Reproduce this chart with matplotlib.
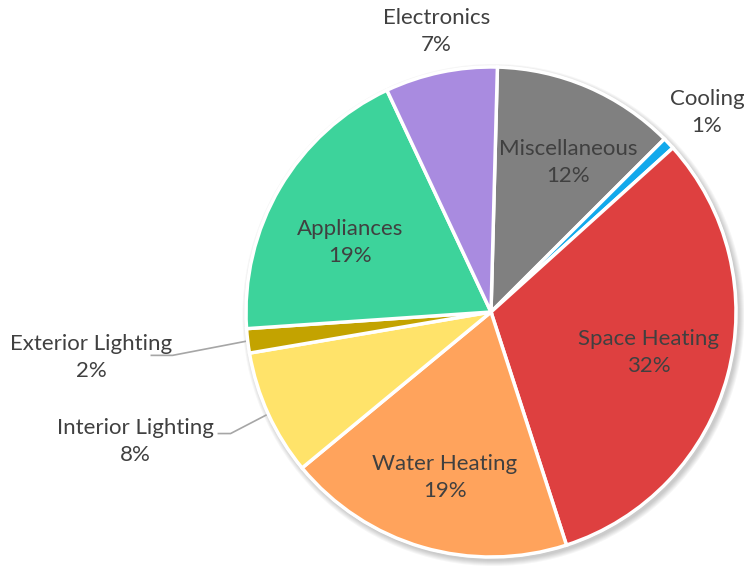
import numpy as np
import matplotlib
matplotlib.use("Agg")
import matplotlib.pyplot as plt
from matplotlib.patches import Circle

# Household energy use by end use (share of total, %)
categories = ["Miscellaneous", "Cooling", "Space Heating", "Water Heating",
              "Interior Lighting", "Exterior Lighting", "Appliances", "Electronics"]
shares = [12.1, 0.8, 31.7, 19.0, 8.3, 1.6, 19.1, 7.4]
colors = ["#808080", "#12A9EC", "#DE4040", "#FFA35C",
          "#FFE36A", "#C3A300", "#3DD39B", "#A98BE0"]

plt.rcParams["font.family"] = ["Lato", "DejaVu Sans"]
TEXT = "#404040"

W, H, DPI = 744, 569, 100
fig = plt.figure(figsize=(W / DPI, H / DPI), dpi=DPI)
ax = fig.add_axes([0, 0, 1, 1])

# pie geometry in pixels
R_PX = 245.0
CX, CY = 491.0, 312.0
px = 1.0 / R_PX

# soft drop shadow behind the pie
for k in range(6):
    ax.add_patch(Circle((2.5 * px, -3.0 * px), 1.0 + (6 - k) * px,
                        facecolor="#000000", edgecolor="none",
                        alpha=0.035, zorder=0))
ax.add_patch(Circle((0, 0), 1.0 + 1.2 * px, facecolor="white",
                    edgecolor="none", zorder=0.5))

wedges, _ = ax.pie(shares, colors=colors, startangle=88.5, counterclock=False,
                   radius=1.0, center=(0, 0), frame=True,
                   wedgeprops=dict(edgecolor="white", linewidth=2.5, zorder=1))
ax.set_xlim(-CX / R_PX, (W - CX) / R_PX)
ax.set_ylim(-(H - CY) / R_PX, CY / R_PX)
ax.set_aspect("auto")
ax.axis("off")

total = sum(shares)
# label placement: (radius factor, extra angle offset in degrees)
placement = {
    "Miscellaneous": (0.687, -4.1),
    "Cooling": (1.20, -0.8),
    "Space Heating": (0.664, 0.6),
    "Water Heating": (0.70, 0.6),
    "Interior Lighting": (1.546, -4.6),
    "Exterior Lighting": (1.641, -0.3),
    "Appliances": (0.642, 4.4),
    "Electronics": (1.166, -0.8),
}
# leader lines: (vertical offset, start x offset, knee x offset) in pixels
leaders = {
    "Interior Lighting": (8, 82.5, 95.5),
    "Exterior Lighting": (2, 59, 81),
}

for w, name, val in zip(wedges, categories, shares):
    mid = 0.5 * (w.theta1 + w.theta2)
    rf, dang = placement[name]
    a = np.deg2rad(mid + dang)
    x, y = rf * np.cos(a), rf * np.sin(a)
    ax.text(x, y, f"{name}\n{val / total * 100:.0f}%", ha="center", va="center",
            fontsize=16, color=TEXT, linespacing=1.45, zorder=3)
    if name in leaders:
        dy, sx, kx = leaders[name]
        am = np.deg2rad(mid)
        ex, ey = np.cos(am), np.sin(am)
        ty = y + dy * px
        ax.plot([ex, x + kx * px, x + sx * px], [ey, ty, ty], color="#A6A6A6",
                lw=1.2, solid_capstyle="butt", zorder=0.8)

fig.savefig("out.png", dpi=DPI, facecolor="white")
